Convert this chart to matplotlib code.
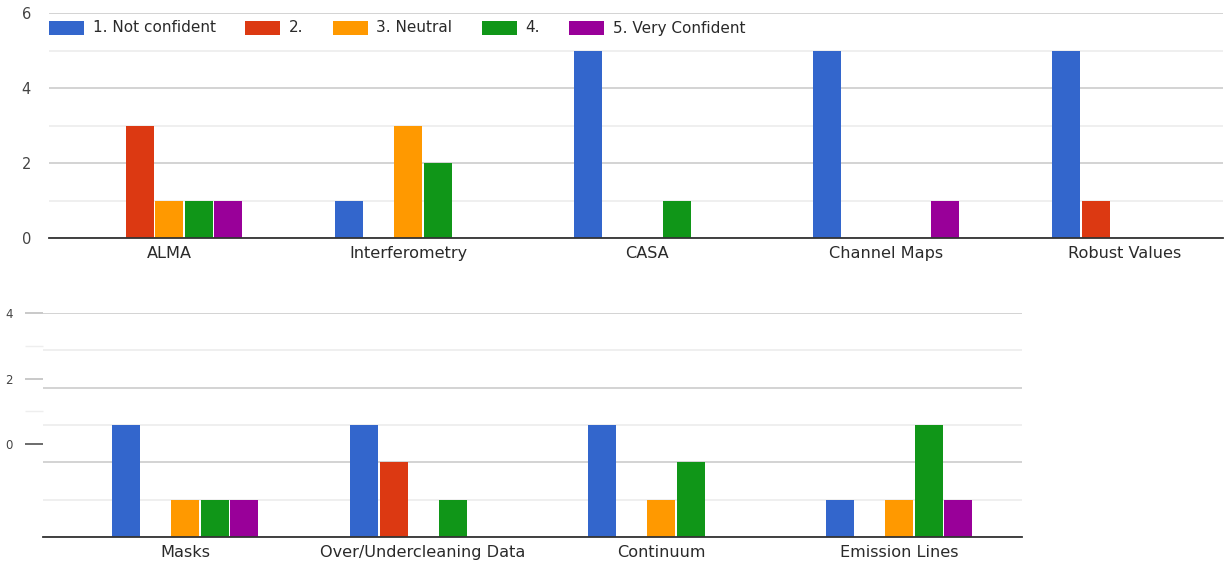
import matplotlib
matplotlib.use("Agg")
import matplotlib.pyplot as plt
from matplotlib.patches import Rectangle

# ---- data -------------------------------------------------------------
series_names = ["1. Not confident", "2.", "3. Neutral", "4.", "5. Very Confident"]
series_colors = ["#3366cc", "#dc3912", "#ff9900", "#109618", "#990099"]

top_categories = ["ALMA", "Interferometry", "CASA", "Channel Maps", "Robust Values"]
top_values = [  # rows: categories, columns: confidence level 1..5
    [0, 3, 1, 1, 1],
    [1, 0, 3, 2, 0],
    [5, 0, 0, 1, 0],
    [5, 0, 0, 0, 1],
    [5, 1, 0, 0, 0],
]

bottom_categories = ["Masks", "Over/Undercleaning Data", "Continuum", "Emission Lines"]
bottom_values = [
    [3, 0, 1, 1, 1],
    [3, 2, 0, 1, 0],
    [3, 0, 1, 2, 0],
    [1, 0, 1, 3, 1],
]

top_ticks = [0, 2, 4, 6]
side_ticks = [0, 2, 4]

# ---- layout -----------------------------------------------------------
W, H = 1230, 562
fig = plt.figure(figsize=(W / 100, H / 100), dpi=100)
fig.patch.set_facecolor("white")
plt.rcParams["font.family"] = ["DejaVu Sans"]


def rect(x0, y0, x1, y1):
    """Pixel box (top-left origin) to figure fractions."""
    return [x0 / W, 1 - y1 / H, (x1 - x0) / W, (y1 - y0) / H]


def grouped_bars(ax, cats, vals, unit_px):
    slot = 29.5 / unit_px
    width = 28.0 / unit_px
    for k, (name, color) in enumerate(zip(series_names, series_colors)):
        xs = [i + (k - 2) * slot for i in range(len(cats))]
        hs = [row[k] for row in vals]
        ax.bar(xs, hs, width=width, color=color, linewidth=0, zorder=3)
    ax.set_xticks(range(len(cats)))
    ax.set_xticklabels(cats, fontsize=11.6, color="#2a2a2a")
    ax.tick_params(axis="x", length=0, pad=6)


def style_axis(ax):
    for s in ["top", "right", "left"]:
        ax.spines[s].set_visible(False)
    ax.spines["bottom"].set_color("#333333")
    ax.spines["bottom"].set_linewidth(1.3)
    ax.spines["bottom"].set_zorder(5)
    ax.set_ylim(0, 6)
    ax.set_yticks([0, 2, 4, 6])
    ax.set_yticks([1, 3, 5], minor=True)
    ax.grid(axis="y", which="major", color="#cccccc", linewidth=1.2, zorder=0)
    ax.grid(axis="y", which="minor", color="#ececec", linewidth=1.2, zorder=0)
    ax.tick_params(axis="y", which="both", length=0)
    ax.set_axisbelow(True)


# top chart
ax1 = fig.add_axes(rect(49, 13, 1223, 238))
style_axis(ax1)
grouped_bars(ax1, top_categories, top_values, 239.0)
ax1.set_xlim(-120 / 239, -120 / 239 + 1174 / 239)
ax1.set_yticks(top_ticks)
ax1.set_yticklabels([str(t) for t in top_ticks], fontsize=10.5, color="#444444")
ax1.tick_params(axis="y", pad=13)

# bottom chart
ax2 = fig.add_axes(rect(43, 313, 1022, 537))
style_axis(ax2)
grouped_bars(ax2, bottom_categories, bottom_values, 238.0)
ax2.set_xlim(-142 / 238, -142 / 238 + 979 / 238)
ax2.set_yticklabels([])

# side value scale next to the bottom chart
ax3 = fig.add_axes(rect(43, 313, 44, 444))
ax3.set_ylim(0, 4)
ax3.set_xticks([])
for s in ax3.spines.values():
    s.set_visible(False)
ax3.patch.set_alpha(0)
ax3.set_yticks(side_ticks)
ax3.set_yticklabels([str(t) for t in side_ticks], fontsize=8.5, color="#444444")
ax3.set_yticks([1, 3], minor=True)
ax3.tick_params(axis="y", which="major", length=13, width=1.1, color="#bbbbbb", pad=9)
ax3.tick_params(axis="y", which="minor", length=13, width=1.0, color="#eeeeee")
ax3.yaxis.get_major_ticks()[0].tick1line.set_markeredgecolor("#444444")

# legend along the top of the upper chart
renderer = fig.canvas.get_renderer()
x = 49.0
yc = 28.0
for name, color in zip(series_names, series_colors):
    fig.add_artist(Rectangle((x / W, 1 - 35 / H), 35 / W, 14 / H,
                             transform=fig.transFigure, facecolor=color,
                             edgecolor="none"))
    t = fig.text((x + 44) / W, 1 - yc / H, name, fontsize=11,
                 color="#2a2a2a", ha="left", va="center")
    bb = t.get_window_extent(renderer)
    x = x + 44 + bb.width + 29

fig.savefig("out.png", dpi=100, facecolor="white")
